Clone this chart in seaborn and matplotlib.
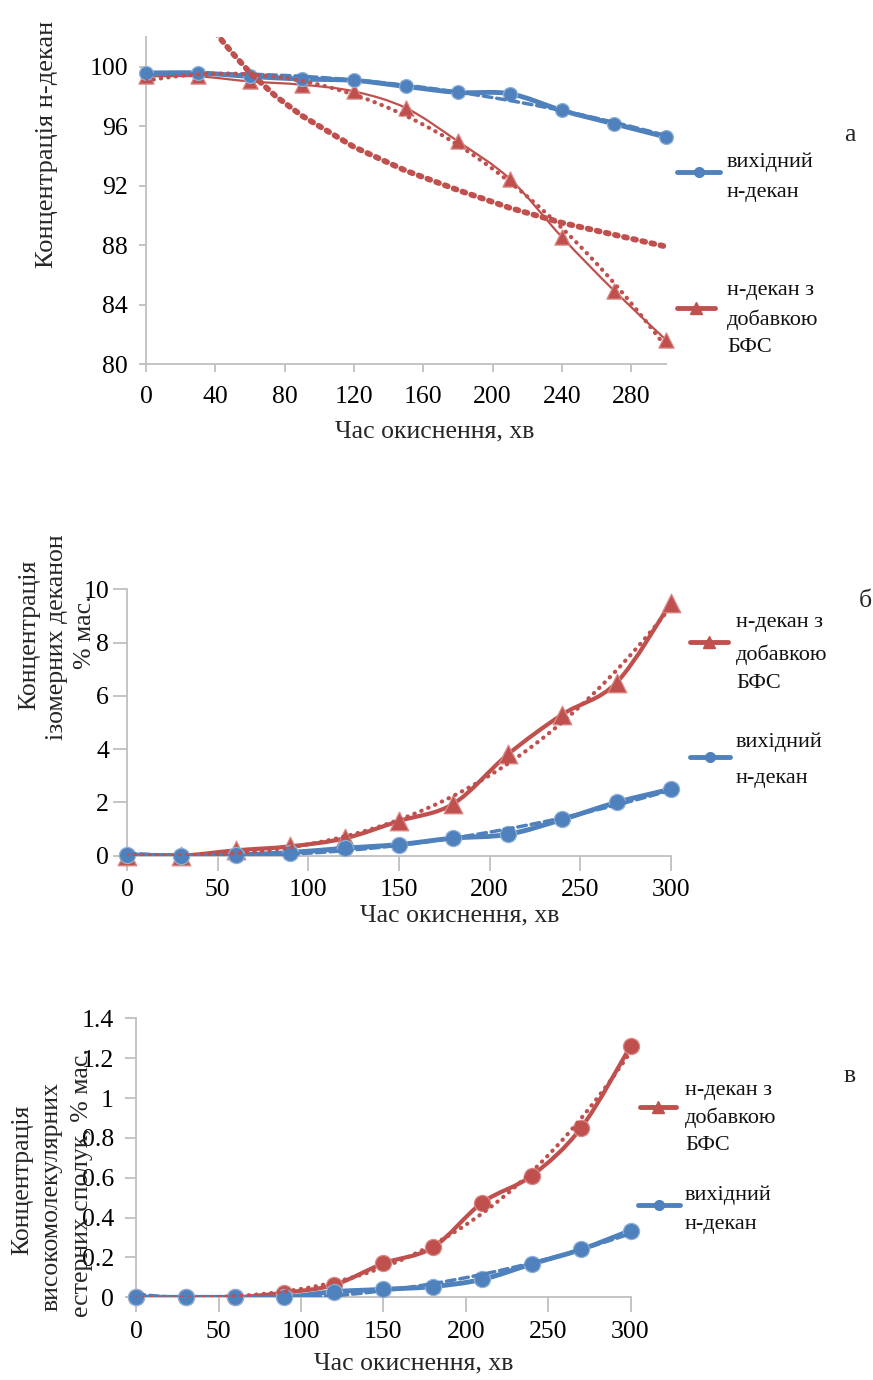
import numpy as np
import matplotlib
matplotlib.use("Agg")
import matplotlib.pyplot as plt
import seaborn as sns
from matplotlib.path import Path
from matplotlib.patches import PathPatch
from matplotlib.lines import Line2D
from matplotlib.ticker import MultipleLocator, FixedLocator, FuncFormatter

# ---------------- data ----------------
time = [0, 30, 60, 90, 120, 150, 180, 210, 240, 270, 300]

# panel a: concentration of n-decane, %
a_base = [99.58, 99.58, 99.35, 99.17, 99.08, 98.67, 98.27, 98.18, 97.06, 96.16, 95.27]
a_bfs = [99.35, 99.35, 99.01, 98.79, 98.34, 97.22, 94.97, 92.44, 88.53, 84.94, 81.62]
# second (logarithmic-looking) dotted trend line of the BFS series
a_trend_x = [40, 45, 50, 60, 75, 90, 120, 150, 180, 210, 240, 270, 300]
a_trend_y = [102.3, 101.6, 100.9, 99.6, 98.0, 96.7, 94.6, 93.0, 91.7, 90.5, 89.5, 88.7, 87.9]

# panel b: isomeric decanones, % mass
b_base = [0.03, 0.0, 0.03, 0.12, 0.28, 0.42, 0.66, 0.80, 1.36, 2.00, 2.50]
b_bfs = [0.0, 0.0, 0.20, 0.35, 0.65, 1.30, 1.95, 3.80, 5.30, 6.50, 9.50]

# panel c: high-molecular esters, % mass
c_base = [0.0, 0.0, 0.0, 0.0, 0.028, 0.040, 0.054, 0.090, 0.167, 0.240, 0.335]
c_bfs = [0.0, 0.0, 0.0, 0.023, 0.062, 0.170, 0.250, 0.475, 0.610, 0.850, 1.260]

lbl_base = ["вихідний", "н-декан"]
lbl_bfs = ["н-декан з", "добавкою", "БФС"]
xlabel = "Час окиснення, хв"

BLUE = "#4F81BD"
RED = "#C0504D"
GREY = "#BFBFBF"

sns.set_theme(style="white")
plt.rcParams["font.family"] = ["Liberation Serif", "DejaVu Serif"]

W, H = 873, 1380
fig = plt.figure(figsize=(W / 100, H / 100), dpi=100)


def fx(px):
    return px / W


def fy(py):
    return 1 - py / H


def smooth(ax, x, y, color, lw, z):
    P = np.column_stack([x, y]).astype(float)
    n = len(P)
    verts = [tuple(P[0])]
    codes = [Path.MOVETO]
    for i in range(n - 1):
        p0 = P[i - 1] if i > 0 else P[i]
        p3 = P[i + 2] if i + 2 < n else P[i + 1]
        c1 = P[i] + (P[i + 1] - p0) / 6.0
        c2 = P[i + 1] - (p3 - P[i]) / 6.0
        verts += [tuple(c1), tuple(c2), tuple(P[i + 1])]
        codes += [Path.CURVE4] * 3
    patch = PathPatch(Path(verts, codes), fill=False, edgecolor=color, lw=lw,
                      capstyle="round", joinstyle="round", zorder=z,
                      transform=ax.transData)
    ax.add_patch(patch)


def style_axes(ax, xl, yl, tlen_x, tlen_y, padx, pady):
    sns.despine(ax=ax)
    for s in ("left", "bottom"):
        ax.spines[s].set_color(GREY)
        ax.spines[s].set_linewidth(1.3)
    ax.set_xlim(*xl)
    ax.set_ylim(*yl)
    ax.tick_params(axis="x", which="both", direction="out", length=tlen_x, width=1.3,
                   color=GREY, labelsize=18.5, pad=padx, labelcolor="black")
    ax.tick_params(axis="y", which="both", direction="out", length=tlen_y, width=1.3,
                   color=GREY, labelsize=18.5, pad=pady, labelcolor="black")
    ax.tick_params(bottom=True, left=True)
    ax.set_xlabel("")
    ax.set_ylabel("")
    ax.grid(False)
    ax.set_facecolor("white")


def markers(ax, x, y, marker, s, color, edge, z):
    sns.scatterplot(x=x, y=y, marker=marker, s=s, color=color, edgecolor=edge,
                    linewidth=0.9, ax=ax, zorder=z, clip_on=False, legend=False)


def trend(ax, x, y, order, color, lw, ls, z):
    sns.regplot(x=np.array(x, float), y=np.array(y, float), order=order, scatter=False,
                ci=None, ax=ax, color=color, truncate=True,
                line_kws=dict(lw=lw, ls=ls, dash_capstyle="round", zorder=z))


def legend_entry(x0, x1, y, color, marker, ms, tx, lines, ys):
    fig.add_artist(Line2D([fx(x0), fx(x1)], [fy(y), fy(y)], color=color, lw=3.5,
                          transform=fig.transFigure))
    fig.add_artist(Line2D([fx((x0 + x1) / 2)], [fy(y)], color=color, marker=marker,
                          ms=ms, mec=color, lw=0, transform=fig.transFigure))
    for t, yy in zip(lines, ys):
        fig.text(fx(tx), fy(yy), t, fontsize=16, ha="left", va="center", color="#111111")


DOT = (0, (0.1, 1.7))
DASH = (0, (2.5, 1.4))

# ---------------- panel a ----------------
ax = fig.add_axes([fx(146), fy(364), (666 - 146) / W, (364 - 37) / H])
smooth(ax, time, a_bfs, RED, 1.6, 3)
markers(ax, time, a_bfs, "^", 120, RED, "#d98a88", 4)
smooth(ax, time, a_base, BLUE, 3.5, 5)
markers(ax, time, a_base, "o", 100, BLUE, "#8fb0d8", 6)
trend(ax, time, a_base, 2, BLUE, 2.5, DASH, 7)
trend(ax, time, a_bfs, 3, RED, 3.0, DOT, 8)
ax.plot(a_trend_x, a_trend_y, color=RED, lw=4.2, ls=(0, (0.5, 1.1)),
        dash_capstyle="round", zorder=8)
style_axes(ax, (0, 300), (80, 102), 6, 5, 9.5, 8)
ax.xaxis.set_major_locator(FixedLocator([0, 40, 80, 120, 160, 200, 240, 280]))
ax.yaxis.set_major_locator(FixedLocator([80, 84, 88, 92, 96, 100]))
ax.yaxis.set_minor_locator(FixedLocator([82, 86, 90, 94, 98, 102]))
fig.text(fx(435), fy(431), xlabel, fontsize=18.5, ha="center", va="center")
fig.text(fx(47), fy(268), "Концентрація н-декан", fontsize=19, rotation=90,
         ha="center", va="bottom")
legend_entry(677, 720, 172, BLUE, "o", 7, 727, lbl_base, [162, 192])
legend_entry(677, 715, 308, RED, "^", 9, 727, lbl_bfs, [291, 320, 347])
fig.text(fx(850), fy(135), "а", fontsize=18.5, ha="center", va="center")

# ---------------- panel b ----------------
ax = fig.add_axes([fx(127), fy(855.7), (671 - 127) / W, (855.7 - 589.3) / H])
smooth(ax, time, b_bfs, RED, 3.0, 3)
markers(ax, time, b_bfs, "^", 180, RED, "#d98a88", 4)
smooth(ax, time, b_base, BLUE, 3.5, 5)
markers(ax, time, b_base, "o", 135, BLUE, "#8fb0d8", 6)
trend(ax, time, b_base, 2, BLUE, 2.5, DASH, 7)
trend(ax, time, b_bfs, 3, RED, 3.0, DOT, 8)
style_axes(ax, (0, 300), (0, 10), 11, 10, 6, 3)
ax.xaxis.set_major_locator(MultipleLocator(50))
ax.yaxis.set_major_locator(MultipleLocator(2))
fig.text(fx(460), fy(915), xlabel, fontsize=18.5, ha="center", va="center")
fig.text(fx(29), fy(635), "Концентрація", fontsize=18.5, rotation=90, ha="center", va="center")
fig.text(fx(57), fy(637), "ізомерних деканон", fontsize=18.5, rotation=90, ha="center", va="center")
fig.text(fx(85), fy(632), "% мас.", fontsize=18.5, rotation=90, ha="center", va="center")
legend_entry(690, 728, 642, RED, "^", 9, 736, lbl_bfs, [622, 655, 684])
legend_entry(690, 730, 757, BLUE, "o", 7, 736, lbl_base, [742, 778])
fig.text(fx(865), fy(601), "б", fontsize=18.5, ha="center", va="center")

# ---------------- panel c ----------------
ax = fig.add_axes([fx(136.2), fy(1297.3), (630.5 - 136.2) / W, (1297.3 - 1018.3) / H])
smooth(ax, time, c_bfs, RED, 3.0, 3)
markers(ax, time, c_bfs, "o", 135, RED, "#d98a88", 4)
smooth(ax, time, c_base, BLUE, 3.5, 5)
markers(ax, time, c_base, "o", 135, BLUE, "#8fb0d8", 6)
trend(ax, time, c_base, 2, BLUE, 2.5, DASH, 7)
trend(ax, time, c_bfs, 3, RED, 3.0, DOT, 8)
style_axes(ax, (0, 300), (0, 1.4), 11, 8, 6, 8)
ax.xaxis.set_major_locator(MultipleLocator(50))
ax.yaxis.set_major_locator(FixedLocator([0, 0.2, 0.4, 0.6, 0.8, 1.0, 1.2, 1.4]))
ax.yaxis.set_major_formatter(FuncFormatter(lambda v, p: ("%.1f" % v).rstrip("0").rstrip(".")))
fig.text(fx(414), fy(1363), xlabel, fontsize=18.5, ha="center", va="center")
fig.text(fx(22), fy(1180), "Концентрація", fontsize=18.5, rotation=90, ha="center", va="center")
fig.text(fx(52), fy(1197), "високомолекулярних", fontsize=18.5, rotation=90, ha="center", va="center")
fig.text(fx(82), fy(1183), "естерних сполук, % мас.", fontsize=18.5, rotation=90, ha="center", va="center")
legend_entry(640, 676, 1107, RED, "^", 9, 685, lbl_bfs, [1090, 1118, 1145])
legend_entry(638, 680, 1205, BLUE, "o", 7, 685, lbl_base, [1195, 1224])
fig.text(fx(850), fy(1076), "в", fontsize=18.5, ha="center", va="center")

fig.savefig("out.png", dpi=100, facecolor="white")
